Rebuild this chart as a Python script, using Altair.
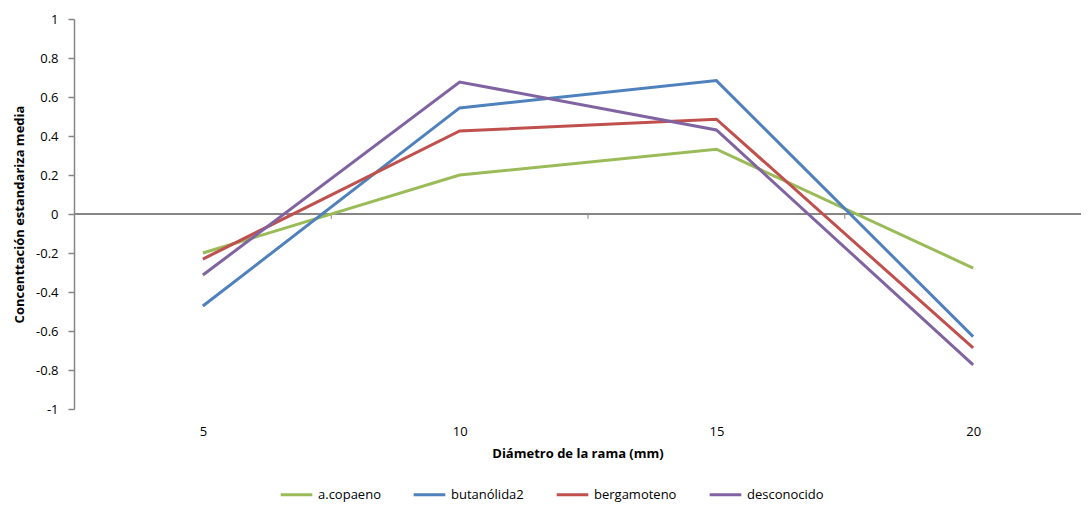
import altair as alt
import pandas as pd

diametros = [5, 10, 15, 20]
series = ["a.copaeno", "butanólida2", "bergamoteno", "desconocido"]
colores = ["#9BBB59", "#4F81BD", "#C0504D", "#8064A2"]
a_copaeno = [-0.20, 0.20, 0.332, -0.277]
butanolida2 = [-0.472, 0.544, 0.684, -0.629]
bergamoteno = [-0.231, 0.426, 0.486, -0.687]
desconocido = [-0.313, 0.677, 0.431, -0.774]
y_ticks = [-1, -0.8, -0.6, -0.4, -0.2, 0, 0.2, 0.4, 0.6, 0.8, 1]
limites = [7.5, 12.5, 17.5]

rows = []
for name, vals in zip(series, [a_copaeno, butanolida2, bergamoteno, desconocido]):
    for d, v in zip(diametros, vals):
        rows.append({"serie": name, "diam": d, "valor": v})
df = pd.DataFrame(rows)

FONT = "Open Sans"
xscale = alt.Scale(domain=[2.49, 22.1], nice=False, zero=False)
yscale = alt.Scale(domain=[-1, 1], nice=False)

xaxis = alt.Axis(values=diametros, title="Diámetro de la rama (mm)",
                 ticks=False, domain=False, grid=False, labelOverlap=False,
                 labelPadding=16, labelFontSize=13, labelColor="#000",
                 labelFont=FONT, titleFont=FONT, titleFontSize=13,
                 titleFontWeight="bold", titleColor="#000", titlePadding=9)
yaxis = alt.Axis(values=y_ticks, title="Concenttación estandariza media",
                 labelExpr="'' + round(datum.value*10)/10",
                 labelOverlap=False, labelBound=False,
                 grid=False, domainColor="#868686", domainWidth=1.5,
                 tickColor="#868686", tickSize=6, tickWidth=1.5,
                 labelPadding=10, labelFontSize=13, labelColor="#000",
                 labelFont=FONT, titleFont=FONT, titleFontSize=13,
                 titleFontWeight="bold", titleColor="#000",
                 titleX=-55, titleY=195, titleAngle=-90,
                 titleAlign="center", titleBaseline="middle")

lines = alt.Chart(df).mark_line(strokeWidth=3, strokeJoin="miter").encode(
    x=alt.X("diam:Q", scale=xscale, axis=xaxis),
    y=alt.Y("valor:Q", scale=yscale, axis=yaxis),
    color=alt.Color("serie:N", scale=alt.Scale(domain=series, range=colores),
                    sort=series,
                    legend=alt.Legend(title=None, orient="none", direction="horizontal",
                                      legendX=205, legendY=458,
                                      symbolType="stroke", symbolSize=1000,
                                      symbolStrokeWidth=3, labelFontSize=13,
                                      labelFont=FONT, labelColor="#000",
                                      columnPadding=26, labelOffset=4)),
)

zero_df = pd.DataFrame({"y": [0]})
zero_line = alt.Chart(zero_df).mark_rule(color="#868686", strokeWidth=2).encode(
    y=alt.Y("y:Q", scale=yscale, axis=yaxis),
)

ticks_df = pd.DataFrame({"x": limites, "y": [0] * 3, "y2": [-0.025] * 3})
ticks = alt.Chart(ticks_df).mark_rule(color="#868686", strokeWidth=1).encode(
    x=alt.X("x:Q", scale=xscale, axis=xaxis),
    y=alt.Y("y:Q", scale=yscale, axis=yaxis),
    y2="y2:Q",
)

chart = alt.layer(zero_line, ticks, lines).properties(
    width=1007, height=390,
    autosize=alt.AutoSizeParams(type="none"),
    padding={"left": 66, "top": 11, "right": 0, "bottom": 93},
).configure_view(stroke=None).configure_axis(labelOverlap=False)

chart.save("out.html", embed_options={"renderer": "svg", "actions": False})
